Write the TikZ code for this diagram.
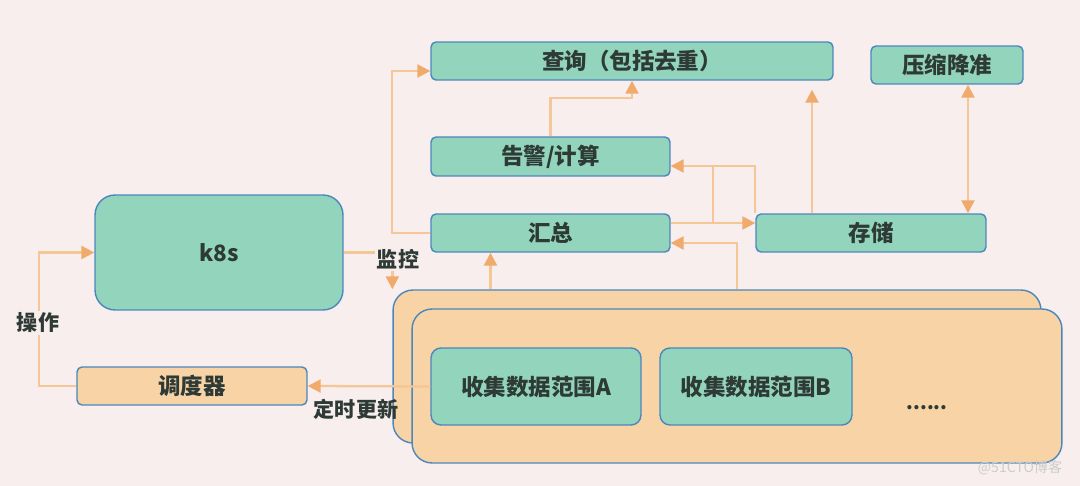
\documentclass[tikz,border=0pt]{standalone}
\usepackage{fontspec}
\setmainfont{Noto Sans CJK SC}
\usetikzlibrary{arrows.meta}
\definecolor{bg}{HTML}{F9EEEE}
\definecolor{gfill}{HTML}{93D4BD}
\definecolor{ofill}{HTML}{F8D3A5}
\definecolor{edge}{HTML}{4A87BC}
\definecolor{wire}{HTML}{F5C696}
\definecolor{tipc}{HTML}{EFAA6C}
\definecolor{ink}{HTML}{2D3A35}

\begin{document}
\begin{tikzpicture}[x=0.02cm, y=-0.02cm,
  box/.style={draw=edge, line width=0.8pt, rounded corners=0.1cm, text=ink,
    font=\fontsize{12.8}{14}\selectfont\bfseries, inner sep=0pt},
  gbox/.style={box, fill=gfill},
  obox/.style={box, fill=ofill},
  wireline/.style={wire, line width=1.3pt},
  arr/.style={wireline, -{Triangle[length=0.26cm, width=0.26cm, color=tipc]}},
  darr/.style={wireline, {Triangle[length=0.26cm, width=0.26cm, color=tipc]}-{Triangle[length=0.26cm, width=0.26cm, color=tipc]}},
  lbl/.style={fill=bg, text=ink, font=\fontsize{12}{14}\selectfont\bfseries, inner sep=1pt}]

\fill[bg] (0,0) rectangle (1080,486);

\node[gbox, minimum width=8.04cm, minimum height=0.76cm] (query) at (632,61) {查询（包括去重）};
\node[gbox, minimum width=3.04cm, minimum height=0.76cm] (compress) at (947,65) {压缩降准};
\node[gbox, minimum width=4.78cm, minimum height=0.78cm] (alarm) at (550.5,156.5) {告警/计算};
\node[gbox, minimum width=4.78cm, minimum height=0.76cm] (sum) at (550.5,233) {汇总};
\node[gbox, minimum width=4.6cm, minimum height=0.76cm] (store) at (871,233) {存储};
\node[gbox, rounded corners=0.4cm, minimum width=4.96cm, minimum height=2.3cm] (k8s) at (219,252.5) {k8s};
\node[obox, minimum width=4.6cm, minimum height=0.76cm] (sched) at (192,386) {调度器};
\node[obox, rounded corners=0.4cm, minimum width=12.96cm, minimum height=3.06cm] (back) at (717,366.5) {};
\node[obox, rounded corners=0.4cm, minimum width=13cm, minimum height=3.08cm] (front) at (737,386) {};
\node[gbox, rounded corners=0.2cm, minimum width=4.2cm, minimum height=1.54cm] (rangeA) at (536,386.5) {收集数据范围A};
\node[gbox, rounded corners=0.2cm, minimum width=3.84cm, minimum height=1.54cm] (rangeB) at (756,386.5) {收集数据范围B};
\node[text=ink, font=\fontsize{11}{13}\selectfont\bfseries] (more) at (927,408) {......};
\node[text=black!20, font=\fontsize{8}{9}\selectfont] (mark) at (1020,468) {@51CTO博客};

\coordinate (j1) at (713,223);
\coordinate (a1) at ([yshift=-0.19cm]alarm.east);
\coordinate (s1) at ([xshift=-1.18cm]store.north);
\coordinate (s2) at ([xshift=-1.2cm]sum.south);
\coordinate (c1) at ([xshift=0.42cm]compress.south);

\draw[arr] (k8s.east) -| (back.north west);
\node[lbl] (monitor) at (398,259) {监控};
\draw[arr] (rangeA.west) -- (sched.east);
\node[lbl, fill=none] (timer) at (356,409) {定时更新};
\draw[arr] (sched.west) -- ++(-37,0) |- (k8s.west);
\node[lbl] (operate) at (38,323) {操作};
\draw[arr] (sum.west) -- ++(-38,0) |- ([yshift=-0.2cm]query.west);
\draw[arr] (alarm.north) -- ++(0,-38) -| (query.south);
\draw[arr, shorten >=0.18cm] (s1) -- (s1 |- query.south);
\draw[darr] (c1) -- (c1 |- store.north);
\draw[arr] ([yshift=0.2cm]sum.east) -- ([yshift=0.2cm]store.west);
\draw[arr] (j1) |- (a1);
\draw[wireline] (store.north west) |- (j1 |- a1);
\draw[arr] ([xshift=0.4cm]back.north) |- ([yshift=-0.2cm]sum.east);
\draw[arr] (s2 |- back.north) -- (s2);
\end{tikzpicture}
\end{document}
